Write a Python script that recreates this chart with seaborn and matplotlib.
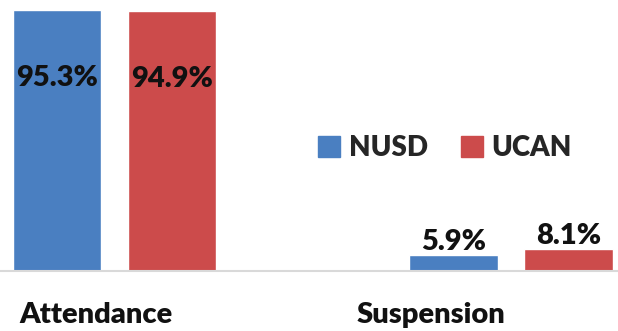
import pandas as pd
import seaborn as sns
import matplotlib.pyplot as plt

categories = ["Attendance", "Suspension"]
groups = ["NUSD", "UCAN"]
nusd = [95.3, 5.9]
ucan = [94.9, 8.1]
colors = ["#4A7FC1", "#CC4B4B"]

df = pd.DataFrame({
    "metric": categories * 2,
    "group": [groups[0]] * 2 + [groups[1]] * 2,
    "value": nusd + ucan,
})

sns.set_style("white")
plt.rcParams["font.family"] = ["Lato", "DejaVu Sans"]

fig = plt.figure(figsize=(6.18, 3.31), dpi=100)
ax = fig.add_axes([0, 60 / 331, 1, 271 / 331])

sns.barplot(data=df, x="metric", y="value", hue="group", order=categories,
            hue_order=groups, palette=colors, width=0.58, gap=0.23,
            saturation=1, ax=ax, legend=False)

ax.set_xlim(-0.289, 1.27)
ax.set_ylim(0, 99)
for s in ["top", "right", "left"]:
    ax.spines[s].set_visible(False)
ax.spines["bottom"].set_color("#D9D9D9")
ax.spines["bottom"].set_linewidth(1.5)
ax.set_yticks([])
ax.set_xticks([])
ax.set_xlabel("")
ax.set_ylabel("")

# value labels: inside for tall bars, above for short ones
for cont in ax.containers:
    for bar in cont:
        h = bar.get_height()
        x = bar.get_x() + bar.get_width() / 2
        if h > 50:
            ax.annotate(f"{h:.1f}%", (x, h), xytext=(0, -49), textcoords="offset points",
                        ha="center", va="center", fontsize=21, fontweight="heavy",
                        color="#111111")
        else:
            ax.annotate(f"{h:.1f}%", (x, h), xytext=(0, 0), textcoords="offset points",
                        ha="center", va="bottom", fontsize=21, fontweight="heavy",
                        color="#111111")

# category labels
fig.text(96 / 618, 1 - 315 / 331, categories[0], ha="center", va="center",
         fontsize=21, fontweight="heavy", color="#111111")
fig.text(431 / 618, 1 - 315 / 331, categories[1], ha="center", va="center",
         fontsize=21, fontweight="heavy", color="#111111")

# legend
handles = [plt.Rectangle((0, 0), 1, 1, color=c) for c in colors]
fig.legend(handles, groups, loc="center", bbox_to_anchor=(445 / 618, 1 - 148 / 331),
           ncol=2, frameon=False, prop={"size": 20, "weight": "heavy"},
           handlelength=0.8, handleheight=0.8, handletextpad=0.3, columnspacing=1.2)

fig.savefig("out.png", dpi=100)
